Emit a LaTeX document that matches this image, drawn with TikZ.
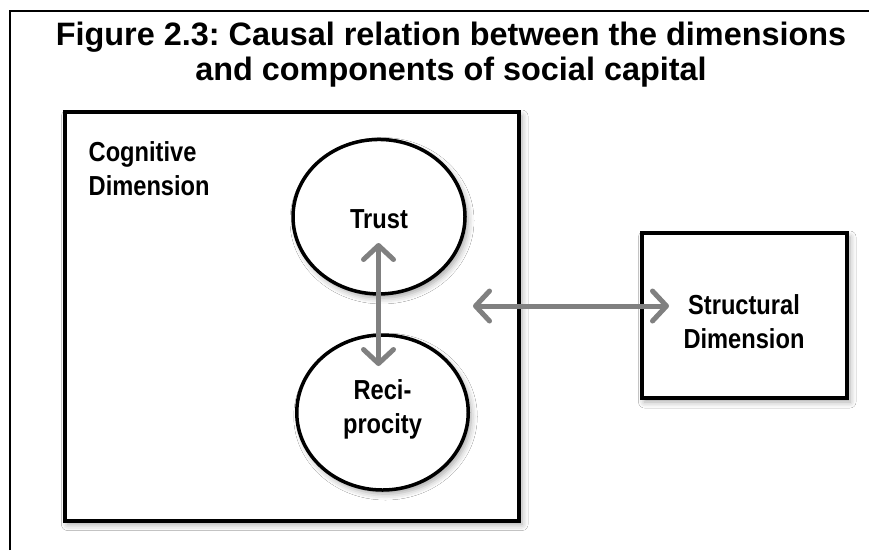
\documentclass[tikz,border=0pt]{standalone}
\usepackage{fontspec}
\setmainfont{Liberation Sans}
\newfontfamily\narrowfont{Liberation Sans}[FakeStretch=0.86]
\usetikzlibrary{arrows.meta,shapes.geometric,shadows.blur}

\definecolor{arrowgray}{HTML}{808080}

\tikzset{
  frameline/.style={draw=black, line width=2pt},
  softshadow/.style={blur shadow={shadow xshift=3pt, shadow yshift=-4pt,
      shadow opacity=35, shadow blur radius=6pt}},
  dimbox/.style={draw=black, line width=4pt, fill=white, inner sep=0pt,
      rectangle, softshadow},
  compcircle/.style={draw=black, line width=3.5pt, fill=white, inner sep=0pt,
      ellipse, softshadow},
  titletext/.style={font=\bfseries\fontsize{32.4}{35}\selectfont, align=center,
      anchor=base, inner sep=0pt},
  labeltext/.style={font=\narrowfont\bfseries\fontsize{27.5}{33.5}\selectfont,
      inner sep=0pt, anchor=base},
  biarrow/.style={draw=arrowgray, line width=5pt,
      {Straight Barb[length=14pt,width=30pt,line cap=round,line join=round]}-{Straight Barb[length=14pt,width=30pt,line cap=round,line join=round]}},
}

\begin{document}
\frenchspacing
\begin{tikzpicture}[x=1pt,y=-1pt]
  \useasboundingbox (0,0) rectangle (869,550);
  \fill[white] (0,0) rectangle (869,550);

  % page frame (open towards right and bottom)
  \draw[frameline] (10,550) -- (10,11) -- (869,11);

  % title (positioned at the baseline of its last line)
  \node[titletext] (title) at (451,80)
    {Figure 2.3: Causal relation between the dimensions\\and components of social capital};

  % dimension boxes
  \node[dimbox, minimum width=454.5pt, minimum height=408.5pt] (cognitive) at (291.75,316.25) {};
  \node[dimbox, minimum width=205.5pt, minimum height=165pt] (structural) at (744.25,315.5) {};

  % components
  \node[compcircle, minimum width=172pt, minimum height=154.5pt] (trust) at (379,216.7) {};
  \node[compcircle, minimum width=171.5pt, minimum height=155pt] (recip) at (382.5,412.5) {};

  % labels (positioned at the baseline of their last line)
  \node[labeltext, anchor=base west, align=left] (coglabel) at (88.5,195) {Cognitive\\Dimension};
  \node[labeltext, align=center] (trustlabel) at (379,228.3) {Trust};
  \node[labeltext, align=center] (reciplabel) at (382.5,433.3) {Reci-\\procity};
  \node[labeltext, align=center] (structlabel) at (744,348.3) {Structural\\Dimension};

  % arrow end points
  \coordinate (vtop) at (378.5,243);
  \coordinate (vbot) at (378.5,366);
  \coordinate (hleft) at (473,306);
  \coordinate (hright) at (669,306);

  % causal relations
  \draw[biarrow] (vtop) -- (vbot);
  \draw[biarrow] (hleft) -- (hright);
\end{tikzpicture}
\end{document}
